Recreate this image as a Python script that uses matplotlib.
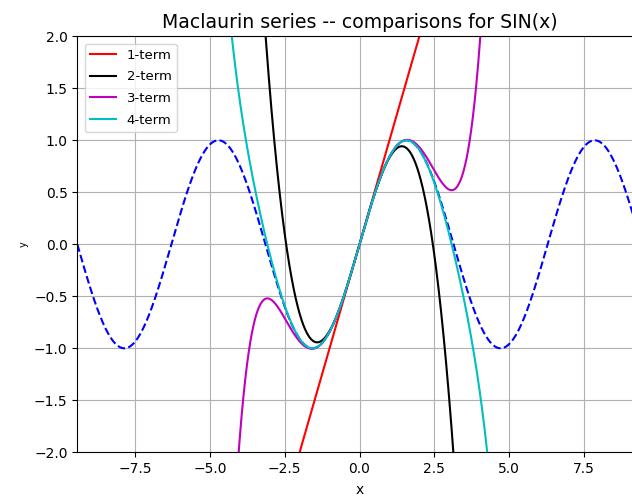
import numpy as np
import matplotlib
matplotlib.use("Agg")
import matplotlib.pyplot as plt

# Maclaurin coefficients of sin(x): x, -x^3/3!, x^5/5!, -x^7/7!
powers = [1, 3, 5, 7]
coeffs = [1.0, -1.0 / 6.0, 1.0 / 120.0, -1.0 / 5040.0]
labels = ["1-term", "2-term", "3-term", "4-term"]
colors = ["r", "k", "m", "c"]
x_min, x_max = -3 * np.pi, 3 * np.pi
y_min, y_max = -2.0, 2.0

x = np.linspace(x_min, x_max, 2000)

fig = plt.figure(figsize=(6.32, 4.96), dpi=100)
ax = fig.add_axes([77.3 / 632, 43.7 / 496, 564.4 / 632, 416 / 496])

ax.plot(x, np.sin(x), "b--")
partial = np.zeros_like(x)
for p, c, lab, col in zip(powers, coeffs, labels, colors):
    partial = partial + c * x ** p
    ax.plot(x, partial, col, label=lab)

ax.set_xlim(x_min, x_max)
ax.set_ylim(y_min, y_max)
ax.grid(True)
ax.set_title("Maclaurin series -- comparisons for SIN(x)", fontsize=13.6)
ax.set_xlabel("x", labelpad=5)
ax.set_ylabel("y", fontsize=7)
ax.legend(loc="upper left", fontsize=9.5, borderaxespad=0.55,
          labelspacing=0.65)

fig.savefig("out.png", dpi=100)
